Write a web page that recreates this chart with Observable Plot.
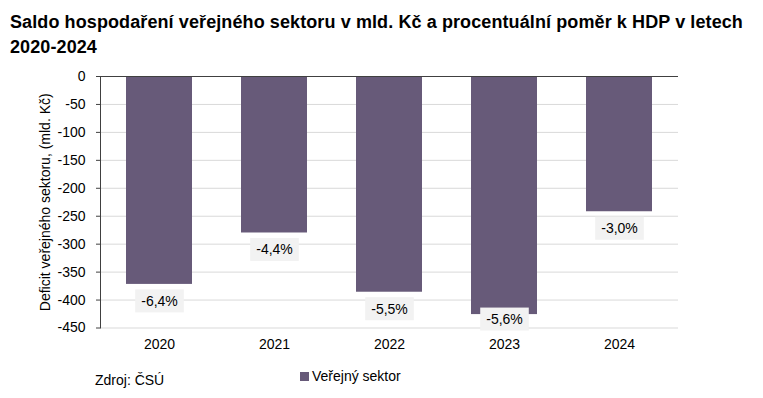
<!DOCTYPE html>
<html>
<head>
<meta charset="utf-8">
<script src="https://cdn.jsdelivr.net/npm/d3@7"></script>
<script src="https://cdn.jsdelivr.net/npm/@observablehq/plot@0.6"></script>
<style>
  html, body { margin: 0; padding: 0; background: #fff; }
  body { width: 763px; height: 398px; position: relative; overflow: hidden;
         font-family: "Liberation Sans", Arial, sans-serif; color: #000; }
  #title { position: absolute; left: 10px; top: 10px; font-weight: bold; font-size: 18px; line-height: 24.5px; letter-spacing: 0.1px; white-space: nowrap; }
  #chart { position: absolute; left: 0; top: 60px; }
  #source { position: absolute; left: 95px; top: 372px; font-size: 14px; }
  #legend { position: absolute; left: 300px; top: 368px; font-size: 14px; display: flex; align-items: center; }
  #legend .sw { width: 9px; height: 9px; margin-right: 3px; }
</style>
</head>
<body>
<div id="title">Saldo hospodaření veřejného sektoru v mld. Kč a procentuální poměr k HDP v letech<br>2020-2024</div>
<div id="chart"></div>
<div id="source">Zdroj: ČSÚ</div>
<div id="legend"><span class="sw"></span><span id="legendText">Veřejný sektor</span></div>
<script>
const years = ["2020", "2021", "2022", "2023", "2024"];
const balance = [-372, -280, -386, -426, -242];
const pctGdp = [-6.4, -4.4, -5.5, -5.6, -3.0];
const yTicks = [0, -50, -100, -150, -200, -250, -300, -350, -400, -450];
const seriesName = "Veřejný sektor";
const barColor = "#675a79";

const data = years.map((y, i) => ({year: y, value: balance[i], pct: pctGdp[i]}));
const fmtPct = d => d.pct.toFixed(1).replace(".", ",") + "%";

document.querySelector("#legend .sw").style.background = barColor;
document.getElementById("legendText").textContent = seriesName;

const chart = Plot.plot({
  width: 763,
  height: 298,
  marginTop: 16,
  marginBottom: 30.5,
  marginLeft: 100,
  marginRight: 85,
  style: {fontSize: "14px", fontFamily: "'Liberation Sans', Arial, sans-serif", color: "#000", background: "transparent", overflow: "visible"},
  x: {domain: years, paddingInner: 0.43, paddingOuter: 0.215, label: null},
  y: {domain: [-450, 0], label: null},
  marks: [
    Plot.gridY(yTicks, {stroke: "#d9d9d9", strokeOpacity: 1}),
    Plot.barY(data, {x: "year", y: "value", fill: barColor}),
    Plot.ruleY([0], {stroke: "#404040", strokeWidth: 1.2}),
    Plot.frame({anchor: "left", stroke: "#404040", strokeOpacity: 1}),
    Plot.axisY(yTicks, {tickSize: 4, tickPadding: 11, tickFormat: d => String(d), stroke: "#404040",
      label: "Deficit veřejného sektoru, (mld. Kč)", labelAnchor: "center", labelOffset: 60, labelArrow: "none"}),
    Plot.axisX({tickSize: 0, tickPadding: 11, label: null}),
    Plot.text(data.filter(d => d.value > -410), {x: "year", y: "value", text: fmtPct, dy: 17, className: "pct-labels"}),
    Plot.text(data.filter(d => d.value <= -410), {x: "year", y: "value", text: fmtPct, dy: 5, className: "pct-labels"})
  ]
});
document.getElementById("chart").appendChild(chart);

// light grey boxes behind the percentage labels
const pctTexts = new Set(pctGdp.map((p, i) => fmtPct(data[i])));
chart.querySelectorAll("text").forEach(t => {
  if (!pctTexts.has(t.textContent)) return;
  const b = t.getBBox();
  const r = document.createElementNS("http://www.w3.org/2000/svg", "rect");
  r.setAttribute("x", b.x - 6);
  r.setAttribute("y", b.y - 3.5);
  r.setAttribute("width", b.width + 12);
  r.setAttribute("height", b.height + 7);
  r.setAttribute("fill", "#f2f2f2");
  const tr = t.getAttribute("transform");
  if (tr) r.setAttribute("transform", tr);
  t.parentNode.insertBefore(r, t);
});
</script>
</body>
</html>
